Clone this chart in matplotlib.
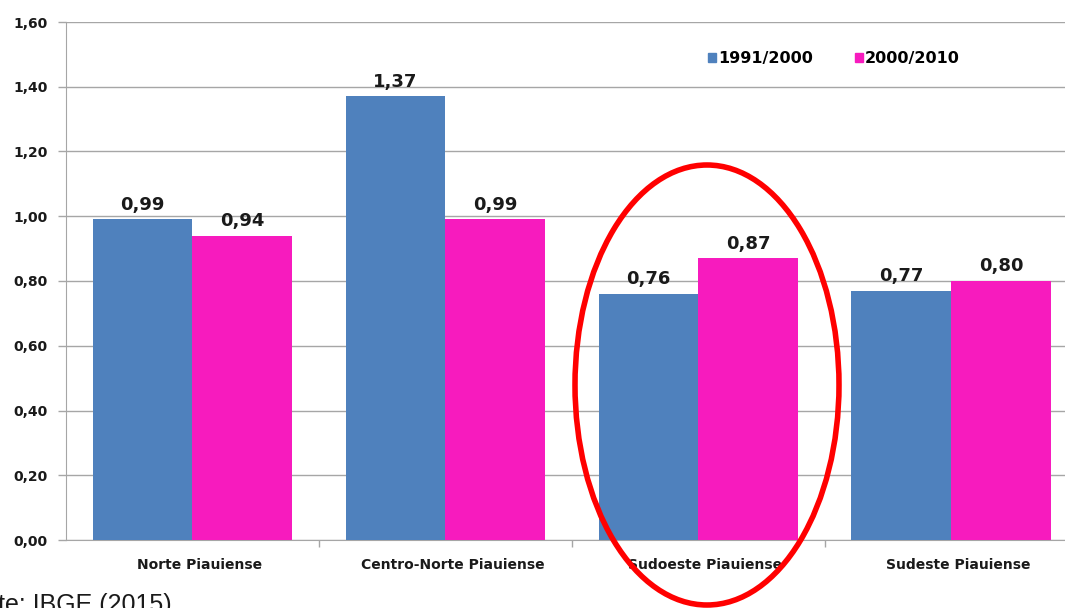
import numpy as np
import matplotlib.pyplot as plt
import matplotlib.transforms as mtransforms
from matplotlib.patches import Ellipse, Patch

plt.rcParams['font.family'] = ['DejaVu Sans']

# Taxa de crescimento por mesorregião do Piauí
regioes = ['Norte Piauiense', 'Centro-Norte Piauiense', 'Sudoeste Piauiense', 'Sudeste Piauiense']
periodo_1 = [0.99, 1.37, 0.76, 0.77]
periodo_2 = [0.94, 0.99, 0.87, 0.80]
rotulos = ['1991/2000', '2000/2010']
cores = ['#4F81BD', '#F71BBE']

def virgula(v):
    return f'{v:.2f}'.replace('.', ',')

fig = plt.figure(figsize=(10.65, 6.08), dpi=100)
ax = fig.add_axes([66 / 1065, 1 - 540 / 608, 1 - 66 / 1065, (540 - 22) / 608])

x = np.arange(len(regioes))
larg = 0.395
b1 = ax.bar(x - larg / 2, periodo_1, larg, color=cores[0], zorder=3)
b2 = ax.bar(x + larg / 2, periodo_2, larg, color=cores[1], zorder=3)

for barras, vals in [(b1, periodo_1), (b2, periodo_2)]:
    for b, v in zip(barras, vals):
        ax.annotate(virgula(v), (b.get_x() + b.get_width() / 2, v),
                    xytext=(0, 4), textcoords='offset points',
                    ha='center', va='bottom', fontsize=13, fontweight='bold',
                    color='#1a1a1a')

ax.set_ylim(0, 1.6)
ax.set_xlim(-0.5, 3.449)
ax.set_yticks(np.arange(0, 1.61, 0.2))
ax.set_yticklabels([virgula(v) for v in np.arange(0, 1.61, 0.2)],
                   fontsize=10, fontweight='bold', color='#1a1a1a')
ax.yaxis.grid(True, color='#A6A6A6', linewidth=1, zorder=0)
ax.tick_params(axis='y', length=6, width=1, color='#A6A6A6', pad=7)

ax.set_xticks(x)
ax.set_xticklabels(regioes, fontsize=10, fontweight='bold', color='#1a1a1a')
ax.set_xticks(x[:-1] + 0.5, minor=True)
ax.tick_params(axis='x', which='major', length=0, pad=13)
ax.tick_params(axis='x', which='minor', length=5, width=1, color='#A6A6A6')

# nomes das regiões levemente deslocados para a direita
desloc = mtransforms.ScaledTranslation(7 / 100, 0, fig.dpi_scale_trans)
for lbl in ax.get_xticklabels():
    lbl.set_transform(lbl.get_transform() + desloc)

for s in ['top', 'right']:
    ax.spines[s].set_visible(False)
ax.spines['left'].set_color('#A6A6A6')
ax.spines['bottom'].set_color('#A6A6A6')

handles = [Patch(color=c) for c in cores]
ax.legend(handles, rotulos, ncol=2, frameon=False, loc='center left',
          bbox_to_anchor=((708 - 66) / 999, 1 - (59 - 22) / 518),
          borderpad=0, borderaxespad=0,
          handlelength=0.5, handleheight=0.5, handletextpad=0.15,
          columnspacing=2.6, prop={'size': 11.5, 'weight': 'bold'})

# destaque da região Sudoeste
elipse = Ellipse((707 / 1065, 1 - 385 / 608), 264 / 1065, 440 / 608,
                 transform=fig.transFigure, fill=False, edgecolor='red',
                 linewidth=4, clip_on=False, zorder=10)
fig.patches.append(elipse)

fig.text(172 / 1065, 1 - 593 / 608, 'Fonte: IBGE (2015)', ha='right', va='top',
         fontsize=18, color='#1a1a1a', family='Liberation Sans')

fig.savefig('out.png', dpi=100)
